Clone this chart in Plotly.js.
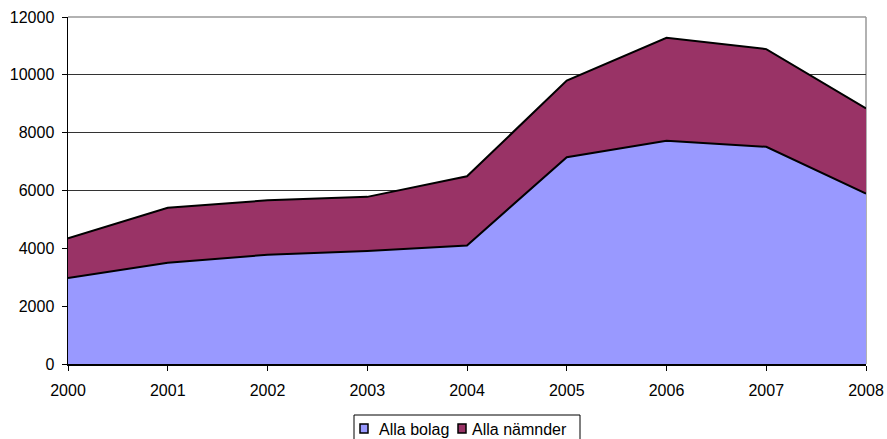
<!DOCTYPE html>
<html>
<head>
<meta charset="utf-8">
<script src="https://cdn.plot.ly/plotly-3.0.1.min.js"></script>
<style>html,body{margin:0;padding:0;background:#fff;}#chart{width:887px;height:439px;}</style>
</head>
<body>
<div id="chart"></div>
<script>
const years = [2000, 2001, 2002, 2003, 2004, 2005, 2006, 2007, 2008];
const allaBolag = [2970, 3500, 3780, 3910, 4100, 7150, 7720, 7510, 5890];
const allaNamnder = [1380, 1900, 1880, 1870, 2390, 2650, 3560, 3380, 2950];
const yTicks = [0, 2000, 4000, 6000, 8000, 10000, 12000];
const seriesNames = ['Alla bolag', 'Alla nämnder'];
const seriesColors = ['#9999FF', '#993366'];

const W = 887, H = 439;
const M = {l: 68, r: 21, t: 17, b: 75};
const pw = W - M.l - M.r, ph = H - M.t - M.b;
const px = x => (x - M.l) / pw;
const py = y => (H - M.b - y) / ph;

const traces = [
  {x: years, y: allaBolag, name: seriesNames[0], type: 'scatter', mode: 'lines',
   stackgroup: 'one', fillcolor: seriesColors[0], line: {color: '#000000', width: 2}},
  {x: years, y: allaNamnder, name: seriesNames[1], type: 'scatter', mode: 'lines',
   stackgroup: 'one', fillcolor: seriesColors[1], line: {color: '#000000', width: 2}}
];

// custom legend (box, square keys, labels)
const legendKeys = [{sx: 360, tx: 377}, {sx: 458, tx: 470}];
const shapes = [
  {type: 'line', xref: 'paper', yref: 'paper', x0: 0, x1: 1, y0: 1, y1: 1, line: {color: '#999999', width: 1.5}},
  {type: 'line', xref: 'paper', yref: 'paper', x0: 1, x1: 1, y0: 0, y1: 1, line: {color: '#999999', width: 1.5}, layer: 'below'},
  {type: 'rect', xref: 'paper', yref: 'paper', x0: px(354), x1: px(580), y0: py(415), y1: py(460),
   line: {color: '#000000', width: 1}, fillcolor: 'rgba(0,0,0,0)'}
];
const annotations = [];
legendKeys.forEach((k, i) => {
  shapes.push({type: 'rect', xref: 'paper', yref: 'paper', x0: px(k.sx), x1: px(k.sx + 8), y0: py(424), y1: py(433),
    line: {color: '#000000', width: 1.5}, fillcolor: seriesColors[i]});
  annotations.push({xref: 'paper', yref: 'paper', x: px(k.tx), y: py(429), xanchor: 'left', yanchor: 'middle',
    text: seriesNames[i], showarrow: false, font: {size: 16, color: '#000000'}});
});

const layout = {
  width: W, height: H,
  margin: {l: M.l, r: M.r, t: M.t, b: M.b, autoexpand: false},
  paper_bgcolor: '#ffffff', plot_bgcolor: '#ffffff',
  font: {family: 'Liberation Sans, Arial, sans-serif', size: 16, color: '#000000'},
  showlegend: false,
  xaxis: {range: [2000, 2008], tickvals: years, ticktext: years.map(String),
          showgrid: false, zeroline: false, showline: true, linecolor: '#000000', linewidth: 1.5,
          ticks: 'outside', ticklen: 5, tickcolor: '#000000', tickfont: {size: 16},
          ticklabelstandoff: 6, fixedrange: true},
  yaxis: {range: [0, 12000], tickvals: yTicks, ticktext: yTicks.map(String),
          showgrid: true, gridcolor: '#333333', gridwidth: 1, zeroline: false,
          showline: true, linecolor: '#000000', linewidth: 1.5,
          ticks: 'outside', ticklen: 5, tickcolor: '#000000', tickfont: {size: 16},
          ticklabelstandoff: 4, fixedrange: true},
  shapes: shapes,
  annotations: annotations
};

Plotly.newPlot('chart', traces, layout, {displayModeBar: false, staticPlot: true});
</script>
</body>
</html>
